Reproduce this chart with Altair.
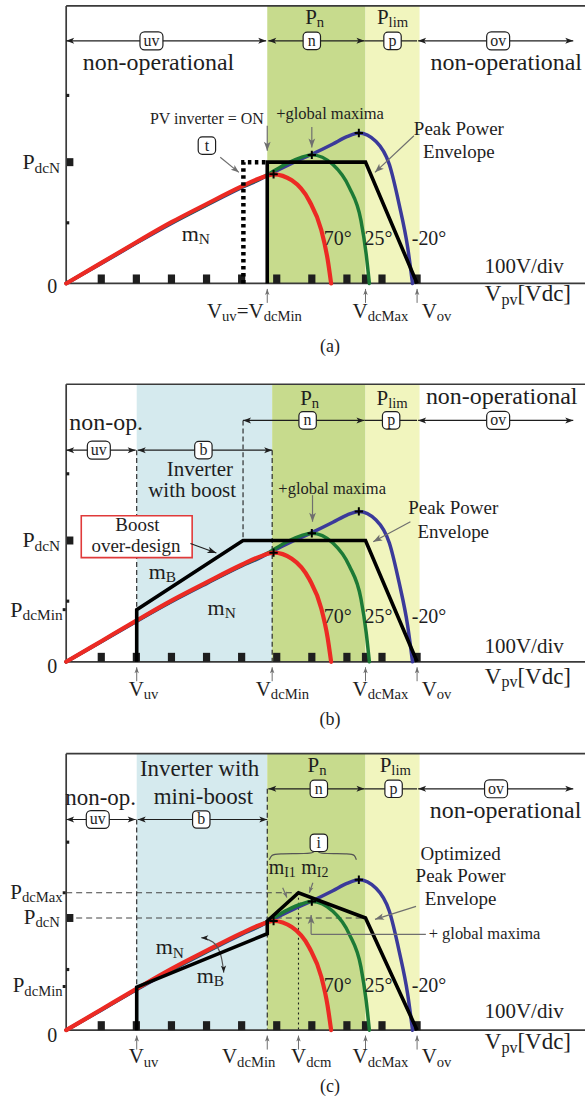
import re
import math
import altair as alt
import pandas as pd

FONT = "Liberation Serif"
INK = "#1e1e1e"
GRAY = "#6f6f6f"
FRAME = "#3a3a3a"
REGION_COLORS = {"blue": "#d5eaee", "green": "#c7db8d", "yellow": "#f1f5be"}

# calibration of the drawing: pixels per 100 V division and per unit of P_dcN
PXX, PXY = 35.15, 121.5
X_DOM = [-1.886, 14.785]
X_END = 14.785

# ---------------- PV power curves (x: 100 V/div, y: multiples of P_dcN) ----------------
red_x = [0, 1, 2, 3, 4, 5, 5.5, 5.91, 6.43, 6.93, 7.27, 7.45, 7.55]
red_y = [0, 0.17, 0.34, 0.505, 0.655, 0.80, 0.865, 0.90, 0.85, 0.68, 0.44, 0.20, 0]
green_x = [0, 1, 2, 3, 4, 5, 5.5, 5.73, 6.3, 6.7, 7.0, 7.6, 8.07, 8.4, 8.55, 8.64]
green_y = [0, 0.168, 0.337, 0.50, 0.65, 0.795, 0.86, 0.895, 0.99, 1.04, 1.06, 0.98, 0.79, 0.52, 0.24, 0]
blue_x = [0, 1, 2, 3, 4, 5, 5.5, 5.73, 6.5, 7.0, 7.6, 8.0, 8.34, 8.83, 9.21, 9.49, 9.73, 9.87]
blue_y = [0, 0.165, 0.333, 0.495, 0.645, 0.79, 0.855, 0.89, 1.0, 1.065, 1.15, 1.21, 1.24, 1.17, 0.98, 0.65, 0.30, 0]
peak_x = [5.91, 7.0, 8.34]
peak_y = [0.90, 1.06, 1.24]

# x-axis division squares (100 V/div) plus V_dcMax
tick_x = [1, 2, 3, 4, 5, 6, 7, 8, 9, 10, 8.53]

# ---------------- peak power envelopes ----------------
env_a_x = [5.73, 5.73, 8.53, 10.0]
env_a_y = [0, 1.0, 1.0, 0]
t_a_x = [5.05, 5.05, 5.73]
t_a_y = [0, 1.0, 1.0]
env_b_x = [2.01, 2.01, 5.04, 8.53, 10.0]
env_b_y = [0, 0.43, 1.0, 1.0, 0]
env_c_x = [2.01, 2.01, 5.73, 5.73, 6.62, 8.53, 10.0]
env_c_y = [0, 0.355, 0.795, 0.90, 1.133, 0.925, 0]

# brace over region (i) and curved m_N / m_B arrow in panel (c)
brace_x = [5.79, 5.85, 6.0, 6.9, 7.05, 7.12, 7.19, 7.34, 8.1, 8.22, 8.27]
brace_y = [1.405, 1.445, 1.455, 1.455, 1.465, 1.49, 1.465, 1.455, 1.455, 1.445, 1.405]
curl_x = [3.85, 4.2, 4.42, 4.49]
curl_y = [0.763, 0.74, 0.64, 0.475]

# ---------------- shapes ----------------
DART = "M0,-1L0.75,1L0,0.5L-0.75,1Z"
CROSS = "M-1,0L1,0M0,-1L0,1"
RECT_TALL = "M-0.8,-1L0.8,-1L0.8,1L-0.8,1Z"
BOX_WIDE = ("M-0.6,-0.78L0.6,-0.78A0.4,0.4,0,0,1,1,-0.38L1,0.38A0.4,0.4,0,0,1,0.6,0.78"
            "L-0.6,0.78A0.4,0.4,0,0,1,-1,0.38L-1,-0.38A0.4,0.4,0,0,1,-0.6,-0.78Z")
BOX_NARROW = ("M-0.45,-0.85L0.45,-0.85A0.4,0.4,0,0,1,0.85,-0.45L0.85,0.45A0.4,0.4,0,0,1,0.45,0.85"
              "L-0.45,0.85A0.4,0.4,0,0,1,-0.85,0.45L-0.85,-0.45A0.4,0.4,0,0,1,-0.45,-0.85Z")

CW = {'a': .444, 'b': .5, 'c': .444, 'd': .5, 'e': .444, 'f': .333, 'g': .5, 'h': .5, 'i': .278,
      'j': .278, 'k': .5, 'l': .278, 'm': .778, 'n': .5, 'o': .5, 'p': .5, 'q': .5, 'r': .333,
      's': .389, 't': .278, 'u': .5, 'v': .5, 'w': .722, 'x': .5, 'y': .5, 'z': .444,
      'A': .722, 'B': .667, 'I': .333, 'M': .889, 'N': .722, 'O': .722, 'P': .556, 'V': .722,
      ' ': .25, '=': .564, '[': .333, ']': .333, '-': .333, '.': .25, '/': .278, '°': .4,
      '+': .564, '(': .333, ')': .333}
SUB = 0.7
DROP = 0.25


def tw(s, size):
    return sum(CW.get(ch, 0.5) for ch in s) * size


def parse(markup):
    out = []
    for m in re.finditer(r"_\{([^}]*)\}|([^_]+)", markup):
        if m.group(1) is not None:
            out.append((m.group(1), True))
        else:
            out.append((m.group(2), False))
    return out


def text_rows(items):
    rows = []
    for it in items:
        markup, x, y, size = it[:4]
        anchor = it[4] if len(it) > 4 else "middle"
        color = it[5] if len(it) > 5 else INK
        pieces = parse(markup)
        if len(pieces) == 1 and not pieces[0][1]:
            al = {"middle": "center", "start": "left", "end": "right"}[anchor]
            rows.append(dict(x=x, y=y, t=pieces[0][0], s=size, c=color, al=al))
            continue
        widths = [tw(t, size * (SUB if sub else 1)) for t, sub in pieces]
        total = sum(widths)
        cur = {"start": 0, "middle": -total / 2, "end": -total}[anchor]
        for (t, sub), w in zip(pieces, widths):
            rows.append(dict(x=x + cur / PXX, y=y - (DROP * size / PXY if sub else 0), t=t,
                             s=size * (SUB if sub else 1), c=color, al="left"))
            cur += w
    return rows


def arrow_rows(arrs):
    segs, heads = [], []
    for a in arrs:
        x1, y1, x2, y2 = a["p"]
        col = a.get("c", INK)
        hs = a.get("hs", 64)
        if a.get("line", True):
            segs.append(dict(x=x1, y=y1, x2=x2, y2=y2, c=col, w=a.get("w", 1.2)))
        dxp, dyp = (x2 - x1) * PXX, -(y2 - y1) * PXY
        L = math.hypot(dxp, dyp)
        ux, uy = dxp / L, dyp / L
        r = math.sqrt(hs) / 2
        for end in a.get("heads", ("end",)):
            if end == "end":
                tx, ty, dx, dy = x2, y2, ux, uy
            else:
                tx, ty, dx, dy = x1, y1, -ux, -uy
            ang = (math.degrees(math.atan2(dx, -dy)) + 360) % 360
            heads.append(dict(x=tx - dx * r / PXX, y=ty + dy * r / PXY, a=ang, c=col, s=hs))
    return segs, heads


XS = alt.Scale(domain=X_DOM, nice=False, zero=False)


def line_df(xs, ys):
    return pd.DataFrame({"x": xs, "y": ys, "i": list(range(len(xs)))})


def panel(P):
    ys = alt.Scale(domain=P["ydom"], nice=False, zero=False)
    X = alt.X("x:Q", scale=XS, axis=None)
    Y = alt.Y("y:Q", scale=ys, axis=None)
    ytop = P["ytop"]
    L = []

    reg = pd.DataFrame([dict(x=a, x2=b, y=0, y2=ytop, c=REGION_COLORS[k]) for k, a, b in P["regions"]])
    L.append(alt.Chart(reg).mark_rect().encode(x=X, x2="x2:Q", y=Y, y2="y2:Q",
                                               color=alt.Color("c:N", scale=None)))

    for key, dash, col in (("dashed", [5, 3], INK), ("hdashed", [6, 4], "#444444"), ("dotted", [2, 3], INK)):
        if P.get(key):
            df = pd.DataFrame([dict(x=a, y=b, x2=c, y2=d) for a, b, c, d in P[key]])
            L.append(alt.Chart(df).mark_rule(strokeDash=dash, color=col, strokeWidth=1.1).encode(
                x=X, y=Y, x2="x2:Q", y2="y2:Q"))

    frame = pd.DataFrame([dict(x=0, y=0, x2=0, y2=ytop), dict(x=0, y=ytop, x2=X_END, y2=ytop),
                          dict(x=0, y=0, x2=X_END, y2=0)])
    L.append(alt.Chart(frame).mark_rule(color=FRAME, strokeWidth=1.7).encode(x=X, y=Y, x2="x2:Q", y2="y2:Q"))

    tk = pd.DataFrame({"x": tick_x, "y": [0] * len(tick_x)})
    L.append(alt.Chart(tk).mark_point(shape=RECT_TALL, size=81, filled=True, opacity=1, color=INK,
                                      yOffset=-4.5).encode(x=X, y=Y))

    # left axis marks
    sq = pd.DataFrame({"x": [0], "y": [P["pdcn"]]})
    L.append(alt.Chart(sq).mark_point(shape=RECT_TALL, size=64, filled=True, opacity=1, color=INK,
                                      xOffset=4).encode(x=X, y=Y))
    sm = pd.DataFrame({"x": [0, 0], "y": [0.5, 1.55]})
    L.append(alt.Chart(sm).mark_point(shape="square", size=10, filled=True, opacity=1, color=INK,
                                      xOffset=1.5).encode(x=X, y=Y))
    if P.get("dots"):
        dt = pd.DataFrame({"x": [0] * len(P["dots"]), "y": P["dots"]})
        L.append(alt.Chart(dt).mark_point(shape="square", size=9, filled=True, opacity=1, color=INK,
                                          xOffset=-2).encode(x=X, y=Y))

    # PV curves
    for xs_, ys_, col, w in ((blue_x, blue_y, "#3b3a9a", 3.5), (green_x, green_y, "#1c7a36", 3.5),
                             (red_x, red_y, "#ec2a24", 4.2)):
        L.append(alt.Chart(line_df(xs_, ys_)).mark_line(interpolate="monotone", color=col, strokeWidth=w,
                                                        strokeCap="round").encode(x=X, y=Y, order="i:Q"))

    for xs_, ys_, kind in P["black_lines"]:
        if kind == "solid":
            mk = alt.Chart(line_df(xs_, ys_)).mark_line(color="black", strokeWidth=3.6, strokeJoin="miter")
        elif kind == "dots":
            mk = alt.Chart(line_df(xs_, ys_)).mark_line(color="black", strokeWidth=4.5, strokeDash=[3.5, 3.5])
        else:
            mk = alt.Chart(line_df(xs_, ys_)).mark_line(color="#555555", strokeWidth=1.2, interpolate="basis")
        L.append(mk.encode(x=X, y=Y, order="i:Q"))

    pk = pd.DataFrame({"x": peak_x, "y": peak_y})
    L.append(alt.Chart(pk).mark_point(shape=CROSS, size=70, filled=False, color="black", strokeWidth=2,
                                      opacity=1).encode(x=X, y=Y))

    if P.get("redbox"):
        x1, x2, y1, y2 = P["redbox"]
        rb = pd.DataFrame([dict(x=x1, x2=x2, y=y1, y2=y2)])
        L.append(alt.Chart(rb).mark_rect(fill="white", stroke="#e03a3a", strokeWidth=1.6).encode(
            x=X, x2="x2:Q", y=Y, y2="y2:Q"))

    # arrows
    arrs = list(P["arrows"])
    for ux in P["up"]:
        arrs.append(dict(p=(ux, -0.16, ux, -0.045), c=GRAY, hs=36, w=1))
    segs, heads = arrow_rows(arrs)
    if segs:
        L.append(alt.Chart(pd.DataFrame(segs)).mark_rule().encode(
            x=X, y=Y, x2="x2:Q", y2="y2:Q", color=alt.Color("c:N", scale=None),
            strokeWidth=alt.StrokeWidth("w:Q", scale=None)))
    if heads:
        L.append(alt.Chart(pd.DataFrame(heads)).mark_point(shape=DART, filled=True, opacity=1).encode(
            x=X, y=Y, angle=alt.Angle("a:Q", scale=None), color=alt.Color("c:N", scale=None),
            size=alt.Size("s:Q", scale=None)))

    # rounded label boxes
    for shape, size, key in ((BOX_WIDE, 529, "wide"), (BOX_NARROW, 420, "narrow")):
        items = P["boxes"][key]
        if items:
            bd = pd.DataFrame([dict(x=b[1], y=b[2]) for b in items])
            L.append(alt.Chart(bd).mark_point(shape=shape, size=size, filled=True, fill="white", stroke=INK,
                                              strokeWidth=1.2, opacity=1).encode(x=X, y=Y))
    box_texts = [(b[0], b[1], b[2], 16) for k in ("wide", "narrow") for b in P["boxes"][k]]

    rows = text_rows(P["texts"] + box_texts)
    tdf = pd.DataFrame(rows)
    for al in ("left", "center", "right"):
        sub = tdf[tdf["al"] == al]
        if len(sub):
            L.append(alt.Chart(sub).mark_text(font=FONT, align=al, baseline="middle").encode(
                x=X, y=Y, text="t:N", size=alt.Size("s:Q", scale=None), color=alt.Color("c:N", scale=None)))

    return alt.layer(*L).properties(width=586, height=P["height"])


# ---------------- panel (a) ----------------
PA = dict(
    height=379, ydom=[-0.790, 2.329], ytop=2.288, pdcn=1.0, dots=[],
    regions=[("green", 5.73, 8.53), ("yellow", 8.53, 10.07)],
    black_lines=[(t_a_x, t_a_y, "dots"), (env_a_x, env_a_y, "solid")],
    arrows=[
        dict(p=(0, 2.0, 5.70, 2.0), heads=("start", "end")),
        dict(p=(5.76, 2.0, 8.50, 2.0), heads=("start", "end")),
        dict(p=(8.50, 2.0, 10.0, 2.0), heads=()),
        dict(p=(10.03, 2.0, 14.45, 2.0), heads=("start", "end")),
        dict(p=(5.73, 1.30, 5.73, 1.095), c=GRAY, hs=81),
        dict(p=(7.0, 1.29, 7.0, 1.12), c=GRAY, hs=81),
        dict(p=(9.91, 1.218, 8.80, 0.916), c=GRAY, hs=81),
        dict(p=(4.39, 1.04, 4.92, 0.916), c=GRAY, hs=64),
    ],
    up=[5.73, 8.53, 10.0],
    boxes=dict(wide=[("uv", 2.43, 2.0), ("ov", 12.31, 2.0)],
               narrow=[("n", 7.0, 2.0), ("p", 9.3, 2.0), ("t", 4.01, 1.136)]),
    texts=[
        ("non-operational", 2.63, 1.82, 24), ("non-operational", 12.54, 1.82, 24),
        ("P_{n}", 7.08, 2.19, 21), ("P_{lim}", 9.30, 2.19, 21),
        ("PV inverter = ON", 4.01, 1.355, 16), ("+global maxima", 7.52, 1.40, 16.5),
        ("Peak Power", 11.19, 1.27, 19), ("Envelope", 11.19, 1.08, 19),
        ("m_{N}", 3.29, 0.41, 22, "start"),
        ("70°", 7.74, 0.368, 20), ("25°", 8.9, 0.368, 20), ("-20°", 10.34, 0.368, 20),
        ("100V/div", 13.05, 0.134, 21), ("0", -0.4, -0.03, 20),
        ("P_{dcN}", -0.17, 1.0, 22, "end"),
        ("V_{uv}=V_{dcMin}", 4.01, -0.236, 21, "start"), ("V_{dcMax}", 8.16, -0.236, 21, "start"),
        ("V_{ov}", 10.13, -0.236, 21, "start"), ("V_{pv}[Vdc]", 11.93, -0.085, 23, "start"),
        ("(a)", 7.52, -0.524, 18),
    ],
)

# ---------------- panel (b) ----------------
PB = dict(
    height=370, ydom=[-0.716, 2.329], ytop=2.288, pdcn=1.0, dots=[0.43],
    regions=[("blue", 2.01, 5.87), ("green", 5.87, 8.53), ("yellow", 8.53, 10.07)],
    dashed=[(2.01, 1.745, 2.01, 0), (5.04, 1.99, 5.04, 1.0), (5.87, 1.745, 5.87, 0)],
    black_lines=[(env_b_x, env_b_y, "solid")],
    redbox=(0.43, 3.59, 0.859, 1.204),
    arrows=[
        dict(p=(0, 1.745, 1.98, 1.745), heads=("start", "end")),
        dict(p=(2.04, 1.745, 5.87, 1.745), heads=("start", "end")),
        dict(p=(5.04, 1.99, 8.50, 1.99), heads=("start", "end")),
        dict(p=(8.50, 1.99, 10.0, 1.99), heads=()),
        dict(p=(10.03, 1.99, 14.45, 1.99), heads=("start", "end")),
        dict(p=(3.54, 0.975, 4.28, 0.897), c=INK, hs=81),
        dict(p=(7.02, 1.374, 7.02, 1.155), c=GRAY, hs=81),
        dict(p=(9.81, 1.155, 8.75, 0.99), c=GRAY, hs=81),
    ],
    up=[2.01, 5.87, 8.53, 10.0],
    boxes=dict(wide=[("uv", 0.93, 1.745), ("ov", 12.31, 1.99)],
               narrow=[("b", 3.91, 1.745), ("n", 6.88, 1.99), ("p", 9.26, 1.99)]),
    texts=[
        ("non-op.", 1.14, 1.967, 24), ("non-operational", 12.41, 2.18, 24),
        ("P_{n}", 6.94, 2.17, 21), ("P_{lim}", 9.29, 2.17, 21),
        ("Inverter", 3.81, 1.585, 21), ("with boost", 3.59, 1.405, 21),
        ("+global maxima", 7.58, 1.424, 16.5),
        ("Peak Power", 11.03, 1.267, 19), ("Envelope", 11.03, 1.07, 19),
        ("Boost", 2.03, 1.13, 19), ("over-design", 1.99, 0.955, 19),
        ("m_{B}", 2.35, 0.743, 22, "start"), ("m_{N}", 4.03, 0.444, 22, "start"),
        ("70°", 7.74, 0.37, 20), ("25°", 8.9, 0.37, 20), ("-20°", 10.34, 0.37, 20),
        ("100V/div", 13.05, 0.123, 21), ("0", -0.4, -0.04, 20),
        ("P_{dcN}", -0.17, 1.0, 22, "end"), ("P_{dcMin}", -0.1, 0.43, 22, "end"),
        ("V_{uv}", 1.78, -0.23, 21, "start"), ("V_{dcMin}", 5.40, -0.23, 21, "start"),
        ("V_{dcMax}", 8.16, -0.23, 21, "start"), ("V_{ov}", 10.13, -0.23, 21, "start"),
        ("V_{pv}[Vdc]", 11.93, -0.123, 23, "start"), ("(b)", 7.52, -0.477, 18),
    ],
)

# ---------------- panel (c) ----------------
PC = dict(
    height=355, ydom=[-0.601, 2.321], ytop=2.28, pdcn=0.925, dots=[1.133, 0.36],
    regions=[("blue", 2.01, 5.73), ("green", 5.73, 8.53), ("yellow", 8.53, 10.07)],
    dashed=[(2.01, 1.737, 2.01, 0), (5.73, 1.99, 5.73, 0)],
    hdashed=[(0, 1.133, 6.62, 1.133), (0, 0.925, 8.53, 0.925)],
    dotted=[(6.62, 1.133, 6.62, 0)],
    black_lines=[(brace_x, brace_y, "thin"), (curl_x, curl_y, "thin"), (env_c_x, env_c_y, "solid")],
    arrows=[
        dict(p=(0, 1.737, 1.98, 1.737), heads=("start", "end")),
        dict(p=(2.04, 1.737, 5.73, 1.737), heads=("start", "end")),
        dict(p=(5.76, 1.99, 8.50, 1.99), heads=("start", "end")),
        dict(p=(8.50, 1.99, 10.0, 1.99), heads=()),
        dict(p=(10.03, 1.99, 14.45, 1.99), heads=("start", "end")),
        dict(p=(9.97, 1.021, 8.80, 0.914), c=GRAY, hs=81),
        dict(p=(10.25, 0.79, 6.98, 0.79), c=GRAY, heads=()),
        dict(p=(6.98, 0.79, 6.98, 0.95), c=GRAY, hs=81),
        dict(p=(6.17, 1.175, 6.29, 1.093), c=GRAY, hs=36),
        dict(p=(7.03, 1.216, 6.93, 1.133), c=GRAY, hs=36),
        dict(p=(4.0, 0.762, 3.85, 0.763), c=INK, hs=49, line=False),
        dict(p=(4.48, 0.56, 4.49, 0.475), c=INK, hs=49, line=False),
    ],
    up=[2.01, 5.73, 6.62, 8.53, 10.0],
    boxes=dict(wide=[("uv", 0.9, 1.737), ("ov", 12.25, 1.99)],
               narrow=[("b", 3.85, 1.737), ("n", 7.2, 1.99), ("p", 9.33, 1.99), ("i", 7.2, 1.545)]),
    texts=[
        ("non-op.", 0.98, 1.915, 23), ("Inverter with", 3.80, 2.15, 23), ("mini-boost", 3.91, 1.92, 23),
        ("P_{n}", 7.15, 2.18, 21), ("P_{lim}", 9.38, 2.18, 21),
        ("non-operational", 12.52, 1.805, 24),
        ("m_{I1}", 5.77, 1.339, 20, "start"), ("m_{I2}", 6.70, 1.339, 20, "start"),
        ("m_{N}", 2.55, 0.685, 22, "start"), ("m_{B}", 3.72, 0.448, 22, "start"),
        ("Optimized", 11.24, 1.45, 19), ("Peak Power", 11.24, 1.27, 19), ("Envelope", 11.24, 1.08, 19),
        ("+ global maxima", 10.33, 0.79, 16.5, "start"),
        ("70°", 7.74, 0.365, 20), ("25°", 8.9, 0.365, 20), ("-20°", 10.34, 0.365, 20),
        ("100V/div", 13.05, 0.146, 21), ("0", -0.4, -0.05, 20),
        ("P_{dcMax}", -0.1, 1.133, 21, "end"), ("P_{dcN}", -0.18, 0.925, 21, "end"),
        ("P_{dcMin}", -0.1, 0.36, 21, "end"),
        ("V_{uv}", 1.78, -0.225, 21, "start"), ("V_{dcMin}", 4.44, -0.225, 21, "start"),
        ("V_{dcm}", 6.41, -0.225, 21, "start"), ("V_{dcMax}", 8.16, -0.225, 21, "start"),
        ("V_{ov}", 10.13, -0.225, 21, "start"), ("V_{pv}[Vdc]", 11.93, -0.10, 23, "start"),
        ("(c)", 7.52, -0.472, 18),
    ],
)

chart = alt.vconcat(panel(PA), panel(PB), panel(PC), spacing=0).properties(
    padding=0, background="white"
).configure_view(stroke=None)

chart.save("out.html", embed_options={"renderer": "svg", "actions": False})
